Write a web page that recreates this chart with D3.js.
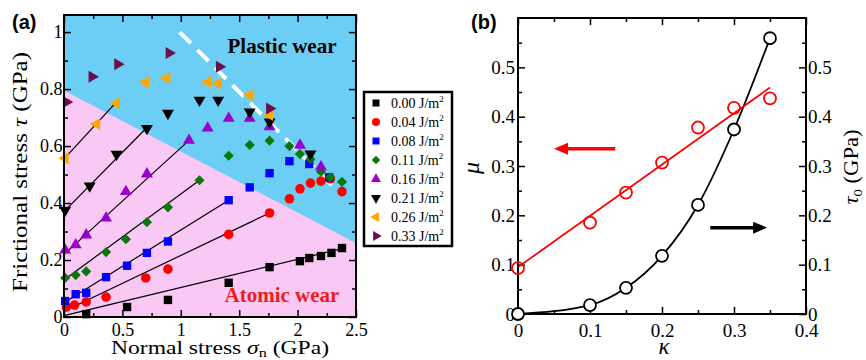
<!DOCTYPE html>
<html>
<head>
<meta charset="utf-8">
<script src="https://cdn.jsdelivr.net/npm/d3@7"></script>
<style>
body { margin: 0; background: #fff; }
svg { display: block; }
</style>
</head>
<body>
<svg></svg>
<script>
// ---- panel (a) data : normal stress (GPa) vs frictional stress (GPa)
var energies = ['0.00', '0.04', '0.08', '0.11', '0.16', '0.21', '0.26', '0.33'];
var colors = ['#000000', '#ff0000', '#0000ff', '#087808', '#9a00cc', '#000000', '#ffa500', '#6b0f4c'];
var shapes = ['square', 'circle', 'square', 'diamond', 'up', 'down', 'left', 'right'];

var sig000 = [0.19, 0.54, 0.89, 1.41, 1.76, 2.02, 2.10, 2.20, 2.29, 2.38],
    tau000 = [0.01, 0.035, 0.06, 0.12, 0.175, 0.196, 0.207, 0.214, 0.225, 0.242];
var sig004 = [0.02, 0.09, 0.19, 0.36, 0.70, 0.89, 1.41, 1.76, 1.93, 2.02, 2.11, 2.20, 2.28, 2.38],
    tau004 = [0.035, 0.042, 0.053, 0.07, 0.137, 0.168, 0.29, 0.365, 0.415, 0.45, 0.47, 0.477, 0.485, 0.44];
var sig008 = [0.01, 0.10, 0.19, 0.36, 0.54, 0.71, 0.89, 1.41, 1.59, 1.76, 1.93, 2.10, 2.27],
    tau008 = [0.056, 0.08, 0.085, 0.14, 0.18, 0.225, 0.265, 0.41, 0.455, 0.505, 0.547, 0.537, 0.49];
var sig011 = [0.01, 0.10, 0.19, 0.36, 0.53, 0.71, 0.89, 1.16, 1.41, 1.59, 1.76, 1.93, 2.02, 2.11, 2.20, 2.28, 2.38],
    tau011 = [0.137, 0.147, 0.16, 0.228, 0.273, 0.333, 0.385, 0.48, 0.566, 0.604, 0.619, 0.60, 0.572, 0.554, 0.51, 0.49, 0.474];
var sig016 = [0.01, 0.10, 0.19, 0.36, 0.53, 0.71, 1.07, 1.23, 1.41, 1.59, 1.76, 2.02, 2.20],
    tau016 = [0.235, 0.253, 0.288, 0.347, 0.44, 0.502, 0.62, 0.663, 0.697, 0.697, 0.668, 0.603, 0.527];
var sig021 = [0.01, 0.22, 0.45, 0.71, 0.89, 1.16, 1.32, 1.59, 1.76, 2.11],
    tau021 = [0.375, 0.46, 0.571, 0.662, 0.715, 0.761, 0.761, 0.72, 0.685, 0.572];
var sig026 = [0.01, 0.28, 0.45, 0.70, 0.88, 1.23, 1.32, 1.59, 1.76],
    tau026 = [0.557, 0.677, 0.751, 0.824, 0.839, 0.825, 0.82, 0.779, 0.709];
var sig033 = [0.02, 0.24, 0.46, 0.90, 1.33, 1.76],
    tau033 = [0.755, 0.843, 0.887, 0.927, 0.878, 0.732];

// linear fits (atomic wear regime): tau at sigma=0, end sigma, tau at end
var fitTau0 = [0.005, 0.02, 0.05, 0.13, 0.22, 0.37, 0.555, null];
var fitSigEnd = [2.38, 1.76, 1.41, 1.16, 1.07, 0.71, 0.45, null];
var fitTauEnd = [0.24, 0.365, 0.41, 0.48, 0.62, 0.665, 0.755, null];

var boundaryTau = [0.795, 0.26];          // pink/blue border at sigma = 0 and 2.5
var plasticLine = [[0.99, 1.0], [2.3, 0.46]];

var xTicksA = [0, 0.5, 1, 1.5, 2, 2.5], yTicksA = [0, 0.2, 0.4, 0.6, 0.8, 1];

// ---- panel (b) data
var kappa = [0, 0.1, 0.15, 0.2, 0.25, 0.3, 0.35];
var mu = [0.093, 0.185, 0.246, 0.307, 0.378, 0.418, 0.437];
var tau0 = [0, 0.018, 0.053, 0.118, 0.221, 0.374, 0.559];
var muFit = [[0, 0.095], [0.35, 0.459]];
var xTicksB = [0, 0.1, 0.2, 0.3, 0.4], yTicksB = [0, 0.1, 0.2, 0.3, 0.4, 0.5];

var SERIF = '"Liberation Serif", "Times New Roman", "DejaVu Serif", serif';
var SANS = '"Liberation Sans", Arial, sans-serif';

var series = [
  [sig000, tau000], [sig004, tau004], [sig008, tau008], [sig011, tau011],
  [sig016, tau016], [sig021, tau021], [sig026, tau026], [sig033, tau033]
].map(function(s, i) {
  return {
    e: energies[i], color: colors[i], shape: shapes[i],
    pts: s[0].map(function(x, j) { return [x, s[1][j]]; }),
    fit: fitTau0[i] === null ? null : [[0, fitTau0[i]], [fitSigEnd[i], fitTauEnd[i]]]
  };
});

var W = 866, H = 360;
var svg = d3.select('svg').attr('width', W).attr('height', H);

function addAxis(g, ax, tx, ty, fs) {
  var a = g.append('g').attr('transform', 'translate(' + tx + ',' + ty + ')').call(ax);
  a.select('.domain').remove();
  a.attr('font-family', null).attr('font-size', null);
  a.selectAll('line').attr('stroke', '#000').attr('stroke-width', 1.5);
  a.selectAll('text').attr('fill', '#000')
    .style('font-family', SERIF).style('font-size', (fs || 18) + 'px');
  return a;
}

function frameTicks(g, x, y, xMaj, xMin, yMaj, yMin, opt) {
  var x0 = x.range()[0], x1 = x.range()[1], y0 = y.range()[0], y1 = y.range()[1];
  // bottom
  addAxis(g, d3.axisBottom(x).tickValues(xMin).tickSize(-4).tickFormat(''), 0, y0);
  addAxis(g, d3.axisBottom(x).tickValues(xMaj).tickSize(-7).tickPadding(opt.bPad)
    .tickFormat(d3.format('~g')), 0, y0, opt.fs);
  // top
  addAxis(g, d3.axisTop(x).tickValues(xMin).tickSize(-4).tickFormat(''), 0, y1);
  addAxis(g, d3.axisTop(x).tickValues(xMaj).tickSize(-7).tickFormat(''), 0, y1);
  // left
  addAxis(g, d3.axisLeft(y).tickValues(yMin).tickSize(-4).tickFormat(''), x0, 0);
  addAxis(g, d3.axisLeft(y).tickValues(yMaj).tickSize(-7).tickPadding(opt.lPad)
    .tickFormat(d3.format('~g')), x0, 0, opt.fs);
  // right
  addAxis(g, d3.axisRight(y).tickValues(yMin).tickSize(-4).tickFormat(''), x1, 0);
  var r = d3.axisRight(y).tickValues(yMaj).tickSize(-7);
  if (opt.rPad != null) r.tickPadding(opt.rPad).tickFormat(d3.format('~g'));
  else r.tickFormat('');
  addAxis(g, r, x1, 0, opt.fs);
  g.append('rect').attr('x', x0).attr('y', y1).attr('width', x1 - x0).attr('height', y0 - y1)
    .attr('fill', 'none').attr('stroke', '#000').attr('stroke-width', 2);
}

function symbolOf(shape, k) {
  var type = shape === 'circle' ? d3.symbolCircle
           : (shape === 'square' || shape === 'diamond') ? d3.symbolSquare : d3.symbolTriangle;
  var size = {square: 70, circle: 72, diamond: 52, up: 62, down: 62, left: 62, right: 62}[shape];
  return d3.symbol().type(type).size(size * (k || 1))();
}
var rot = {square: 0, circle: 0, diamond: 45, up: 0, down: 180, left: -90, right: 90};

// ================= panel (a)
var xa = d3.scaleLinear().domain([0, 2.5]).range([64, 356]);
var ya = d3.scaleLinear().domain([0, 1.06]).range([317, 15]);
var ga = svg.append('g');
var lineA = d3.line().x(function(d) { return xa(d[0]); }).y(function(d) { return ya(d[1]); });

ga.append('rect').attr('x', xa(0)).attr('y', ya(1.06))
  .attr('width', xa(2.5) - xa(0)).attr('height', ya(0) - ya(1.06)).attr('fill', '#6dcef5');
ga.append('path')
  .attr('d', lineA([[0, 0], [0, boundaryTau[0]], [2.5, boundaryTau[1]], [2.5, 0]]) + 'Z')
  .attr('fill', '#fac8f5');

ga.append('path').attr('d', lineA(plasticLine)).attr('stroke', '#fff')
  .attr('stroke-width', 4).attr('stroke-dasharray', '16,9').attr('fill', 'none');

ga.append('text').attr('x', 282).attr('y', 53).attr('text-anchor', 'middle')
  .style('font-family', SERIF).style('font-size', '21px').style('font-weight', 'bold')
  .text('Plastic wear');
ga.append('text').attr('x', 282).attr('y', 302).attr('text-anchor', 'middle')
  .style('font-family', SERIF).style('font-size', '21px').style('font-weight', 'bold')
  .attr('fill', '#f01c1c').text('Atomic wear');

ga.selectAll('.fit').data(series.filter(function(s) { return s.fit; })).enter()
  .append('path').attr('class', 'fit')
  .attr('d', function(s) { return lineA(s.fit); })
  .attr('stroke', '#000').attr('stroke-width', 1.2).attr('fill', 'none');

series.forEach(function(s) {
  ga.append('g').selectAll('path').data(s.pts).enter().append('path')
    .attr('d', symbolOf(s.shape))
    .attr('transform', function(d) {
      return 'translate(' + xa(d[0]) + ',' + ya(d[1]) + ') rotate(' + rot[s.shape] + ')';
    })
    .attr('fill', s.color);
});

frameTicks(ga, xa, ya, xTicksA, d3.range(0.25, 2.5, 0.5), yTicksA, d3.range(0.1, 1.06, 0.2),
  {bPad: 6, lPad: 1.5, fs: 18});

// axis titles (a)
var xt = ga.append('text').attr('x', 220).attr('y', 354).attr('text-anchor', 'middle')
  .attr('textLength', 218).attr('lengthAdjust', 'spacingAndGlyphs')
  .style('font-family', SERIF).style('font-size', '19px');
xt.append('tspan').text('Normal stress ');
xt.append('tspan').style('font-style', 'italic').text('σ');
xt.append('tspan').attr('dy', 3).style('font-size', '13px').text('n');
xt.append('tspan').attr('dy', -3).text(' (GPa)');

var yt = ga.append('text').attr('transform', 'translate(27,172) rotate(-90)')
  .attr('text-anchor', 'middle').attr('textLength', 240).attr('lengthAdjust', 'spacingAndGlyphs')
  .style('font-family', SERIF).style('font-size', '20px');
yt.append('tspan').text('Frictional stress ');
yt.append('tspan').style('font-style', 'italic').text('τ');
yt.append('tspan').text(' (GPa)');

// legend
var lg = ga.append('g');
lg.append('rect').attr('x', 364).attr('y', 92).attr('width', 88).attr('height', 154)
  .attr('fill', '#fff').attr('stroke', '#000').attr('stroke-width', 2.5);
var li = lg.selectAll('.li').data(series).enter().append('g').attr('class', 'li')
  .attr('transform', function(d, i) { return 'translate(376,' + (103 + i * 19) + ')'; });
li.append('path').attr('d', function(d) { return symbolOf(d.shape, 0.7); })
  .attr('transform', function(d) { return 'rotate(' + rot[d.shape] + ')'; })
  .attr('fill', function(d) { return d.color; });
var lt = li.append('text').attr('x', 15).attr('y', 5)
  .style('font-family', SERIF).style('font-size', '14px');
lt.append('tspan').text(function(d) { return d.e + ' J/m'; });
lt.append('tspan').attr('dy', -6).style('font-size', '9px').text('2');

svg.append('text').attr('x', 12).attr('y', 29)
  .style('font-family', SANS).style('font-weight', 'bold')
  .style('font-size', '20px').text('(a)');

// ================= panel (b)
var xb = d3.scaleLinear().domain([0, 0.4]).range([518, 806]);
var yb = d3.scaleLinear().domain([0, 0.6]).range([314, 18]);
var gb = svg.append('g');
var lineB = d3.line().x(function(d) { return xb(d[0]); }).y(function(d) { return yb(d[1]); });

frameTicks(gb, xb, yb, xTicksB, d3.range(0.05, 0.4, 0.1), yTicksB, d3.range(0.05, 0.6, 0.1),
  {bPad: 10, lPad: 3, rPad: 2, fs: 19});

var tauPts = kappa.map(function(k, i) { return [k, tau0[i]]; });
var muPts = kappa.map(function(k, i) { return [k, mu[i]]; });

gb.append('path').attr('d', lineB.curve(d3.curveMonotoneX)(tauPts))
  .attr('stroke', '#000').attr('stroke-width', 1.8).attr('fill', 'none');
lineB.curve(d3.curveLinear);
gb.append('path').attr('d', lineB(muFit))
  .attr('stroke', '#ff0000').attr('stroke-width', 1.8).attr('fill', 'none');

gb.selectAll('.mu').data(muPts).enter().append('circle').attr('class', 'mu')
  .attr('cx', function(d) { return xb(d[0]); }).attr('cy', function(d) { return yb(d[1]); })
  .attr('r', 6).attr('fill', 'none').attr('stroke', '#ff0000').attr('stroke-width', 1.8);
gb.selectAll('.t0').data(tauPts).enter().append('circle').attr('class', 't0')
  .attr('cx', function(d) { return xb(d[0]); }).attr('cy', function(d) { return yb(d[1]); })
  .attr('r', 6).attr('fill', '#fff').attr('stroke', '#000').attr('stroke-width', 1.8);

// arrows pointing to each axis
function arrow(from, to, color) {
  var x1 = xb(from[0]), y1 = yb(from[1]), x2 = xb(to[0]), y2 = yb(to[1]);
  var dir = x2 > x1 ? 1 : -1;
  gb.append('line').attr('x1', x1).attr('y1', y1).attr('x2', x2 - dir * 10).attr('y2', y2)
    .attr('stroke', color).attr('stroke-width', 3.5);
  gb.append('path').attr('d', 'M' + x2 + ',' + y2 + 'L' + (x2 - dir * 14) + ',' + (y2 - 6) +
      'L' + (x2 - dir * 14) + ',' + (y2 + 6) + 'Z').attr('fill', color);
}
arrow([0.135, 0.335], [0.05, 0.335], '#ff0000');
arrow([0.267, 0.175], [0.346, 0.175], '#000');

gb.append('text').attr('transform', 'translate(479,168) rotate(-90)').attr('text-anchor', 'middle')
  .style('font-family', SERIF).style('font-size', '24px').style('font-style', 'italic').text('μ');
gb.append('text').attr('x', 664).attr('y', 354).attr('text-anchor', 'middle')
  .style('font-family', SERIF).style('font-size', '23px').style('font-style', 'italic').text('κ');
var rt = gb.append('text').attr('transform', 'translate(858,167) rotate(-90)')
  .attr('text-anchor', 'middle').attr('textLength', 75).attr('lengthAdjust', 'spacingAndGlyphs')
  .style('font-family', SERIF).style('font-size', '20px');
rt.append('tspan').style('font-style', 'italic').text('τ');
rt.append('tspan').attr('dy', 4).style('font-size', '13px').text('0');
rt.append('tspan').attr('dy', -4).text(' (GPa)');

svg.append('text').attr('x', 471).attr('y', 29)
  .style('font-family', SANS).style('font-weight', 'bold')
  .style('font-size', '20px').text('(b)');
</script>
</body>
</html>
